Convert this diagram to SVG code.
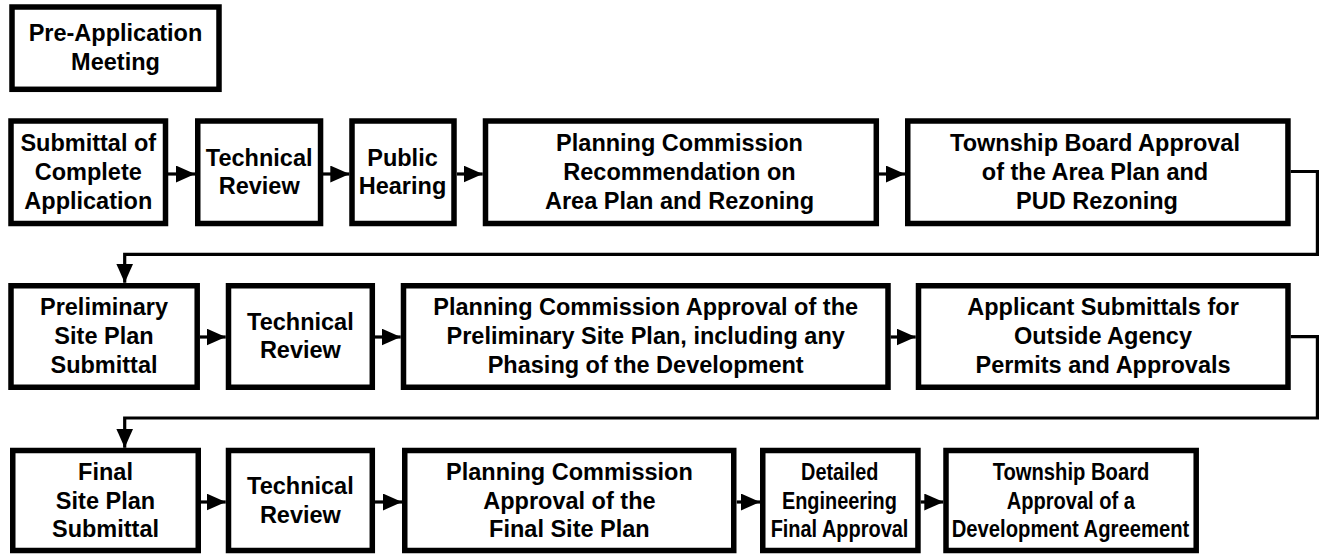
<svg xmlns="http://www.w3.org/2000/svg" width="1319" height="554" viewBox="0 0 1319 554">
<style>
.box{fill:#fff;stroke:#000;stroke-width:5.5}
.t{font-family:"Liberation Sans",Arial,sans-serif;font-weight:bold;font-size:23.5px;fill:#000;text-anchor:middle}
.ln{fill:none;stroke:#000;stroke-width:3.2}
</style>
<defs>
<marker id="ah" markerUnits="userSpaceOnUse" markerWidth="19" markerHeight="17" refX="18" refY="8" orient="auto" viewBox="0 0 18 16">
<path d="M0,0 L18,8 L0,16 z" fill="#000"/>
</marker>
</defs>
<rect width="1319" height="554" fill="#fff"/>

<g id="connectors">
<line class="ln" x1="168" y1="174" x2="195" y2="174" marker-end="url(#ah)"/>
<line class="ln" x1="323" y1="174" x2="349.3" y2="174" marker-end="url(#ah)"/>
<line class="ln" x1="457" y1="174" x2="482.7" y2="174" marker-end="url(#ah)"/>
<line class="ln" x1="879" y1="174" x2="905" y2="174" marker-end="url(#ah)"/>
<line class="ln" x1="200" y1="337" x2="225.7" y2="337" marker-end="url(#ah)"/>
<line class="ln" x1="375" y1="337" x2="400.7" y2="337" marker-end="url(#ah)"/>
<line class="ln" x1="890.7" y1="337" x2="915.7" y2="337" marker-end="url(#ah)"/>
<line class="ln" x1="201" y1="502" x2="225.7" y2="502" marker-end="url(#ah)"/>
<line class="ln" x1="375" y1="502" x2="402" y2="502" marker-end="url(#ah)"/>
<line class="ln" x1="736.7" y1="502" x2="760" y2="502" marker-end="url(#ah)"/>
<line class="ln" x1="920.7" y1="502" x2="943.3" y2="502" marker-end="url(#ah)"/>
<path class="ln" d="M1290.7,171.5 H1317.4 V254.3 H124.7 V282.7" marker-end="url(#ah)"/>
<path class="ln" d="M1290.7,336.7 H1317.4 V418 H124.7 V447.7" marker-end="url(#ah)"/>
</g>

<g id="pre-application">
<rect class="box" x="12" y="7" width="207" height="82.3"/>
<text class="t" x="115.5" y="41.4">Pre-Application</text>
<text class="t" x="115.5" y="70.1">Meeting</text>
</g>

<g id="submittal">
<rect class="box" x="11" y="121" width="154.5" height="102.5"/>
<text class="t" x="88.3" y="151.1">Submittal of</text>
<text class="t" x="88.3" y="179.8">Complete</text>
<text class="t" x="88.3" y="208.5">Application</text>
</g>
<g id="technical-review-1">
<rect class="box" x="197.75" y="121" width="122.8" height="102.5"/>
<text class="t" x="259.2" y="165.5">Technical</text>
<text class="t" x="259.2" y="194.2">Review</text>
</g>
<g id="public-hearing">
<rect class="box" x="352" y="121" width="102" height="102.5"/>
<text class="t" x="402.5" y="165.5">Public</text>
<text class="t" x="402.5" y="194.2">Hearing</text>
</g>
<g id="pc-recommendation">
<rect class="box" x="485.5" y="121" width="390.8" height="102.5"/>
<text class="t" x="679.5" y="151.1">Planning Commission</text>
<text class="t" x="679.5" y="179.8">Recommendation on</text>
<text class="t" x="679.5" y="208.5">Area Plan and Rezoning</text>
</g>
<g id="township-area-plan">
<rect class="box" x="907.75" y="121" width="380.2" height="102.5"/>
<text class="t" x="1095" y="151.1">Township Board Approval</text>
<text class="t" x="1095" y="179.8">of the Area Plan and</text>
<text class="t" x="1097" y="208.5">PUD Rezoning</text>
</g>

<g id="preliminary-site-plan">
<rect class="box" x="11" y="285.75" width="186.2" height="101.5"/>
<text class="t" x="104" y="315.3">Preliminary</text>
<text class="t" x="104" y="344">Site Plan</text>
<text class="t" x="104" y="372.7">Submittal</text>
</g>
<g id="technical-review-2">
<rect class="box" x="228.5" y="285.75" width="143.8" height="101.5"/>
<text class="t" x="300.4" y="329.7">Technical</text>
<text class="t" x="300.4" y="358.4">Review</text>
</g>
<g id="pc-preliminary-approval">
<rect class="box" x="403.5" y="285.75" width="484.5" height="101.5"/>
<text class="t" x="645.7" y="315.3">Planning Commission Approval of the</text>
<text class="t" x="645.7" y="344">Preliminary Site Plan, including any</text>
<text class="t" x="645.7" y="372.7">Phasing of the Development</text>
</g>
<g id="applicant-submittals">
<rect class="box" x="918.5" y="285.75" width="369.5" height="101.5"/>
<text class="t" x="1103" y="315.3">Applicant Submittals for</text>
<text class="t" x="1103" y="344">Outside Agency</text>
<text class="t" x="1103" y="372.7">Permits and Approvals</text>
</g>

<g id="final-site-plan">
<rect class="box" x="12.75" y="450.5" width="185.5" height="100"/>
<text class="t" x="105.5" y="480">Final</text>
<text class="t" x="105.5" y="508.7">Site Plan</text>
<text class="t" x="105.5" y="537.4">Submittal</text>
</g>
<g id="technical-review-3">
<rect class="box" x="228.5" y="450.5" width="143.8" height="100"/>
<text class="t" x="300.4" y="494.4">Technical</text>
<text class="t" x="300.4" y="523.1">Review</text>
</g>
<g id="pc-final-approval">
<rect class="box" x="404.75" y="450.5" width="329" height="100"/>
<text class="t" x="569.4" y="480">Planning Commission</text>
<text class="t" x="569.4" y="508.7">Approval of the</text>
<text class="t" x="569.4" y="537.4">Final Site Plan</text>
</g>
<g id="detailed-engineering">
<rect class="box" x="762.75" y="450.5" width="155.2" height="100"/>
<text class="t" x="839.7" y="480" textLength="77.3" lengthAdjust="spacingAndGlyphs">Detailed</text>
<text class="t" x="839.4" y="508.7" textLength="115" lengthAdjust="spacingAndGlyphs">Engineering</text>
<text class="t" x="839.5" y="537.4" textLength="137.7" lengthAdjust="spacingAndGlyphs">Final Approval</text>
</g>
<g id="township-development-agreement">
<rect class="box" x="946" y="450.5" width="250.2" height="100"/>
<text class="t" x="1071" y="480" textLength="156.7" lengthAdjust="spacingAndGlyphs">Township Board</text>
<text class="t" x="1070.8" y="508.7" textLength="128.3" lengthAdjust="spacingAndGlyphs">Approval of a</text>
<text class="t" x="1070.5" y="537.4" textLength="237.6" lengthAdjust="spacingAndGlyphs">Development Agreement</text>
</g>
</svg>
